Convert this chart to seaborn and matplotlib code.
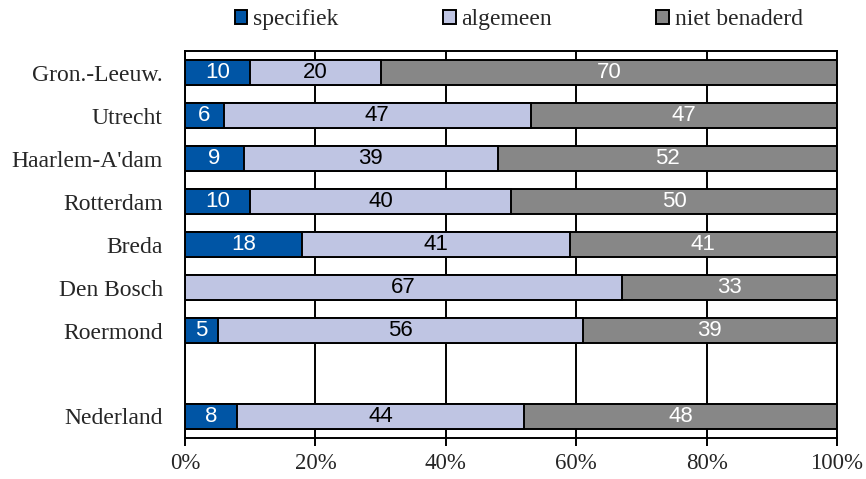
import numpy as np
import pandas as pd
import matplotlib
matplotlib.use("Agg")
import matplotlib.pyplot as plt
from matplotlib.patches import Patch
import seaborn as sns

# Values per region (percent)
regions = ["Gron.-Leeuw.", "Utrecht", "Haarlem-A'dam", "Rotterdam", "Breda",
           "Den Bosch", "Roermond", " ", "Nederland"]
specifiek = [10, 6, 9, 10, 18, 0, 5, np.nan, 8]
algemeen = [20, 47, 39, 40, 41, 67, 56, np.nan, 44]
niet_benaderd = [70, 47, 52, 50, 41, 33, 39, np.nan, 48]

series_names = ["specifiek", "algemeen", "niet benaderd"]
colors = ["#0055A5", "#BFC5E3", "#878787"]
text_colors = ["white", "black", "white"]

df = pd.DataFrame({"region": regions, "specifiek": specifiek,
                   "algemeen": algemeen, "niet benaderd": niet_benaderd})
df["cum1"] = df["specifiek"]
df["cum2"] = df["specifiek"] + df["algemeen"]
df["cum3"] = df["cum2"] + df["niet benaderd"]

sns.set_style("white")
plt.rcParams["font.family"] = ["Liberation Serif", "DejaVu Serif"]

fig = plt.figure(figsize=(8.66, 4.79), dpi=100)
ax = fig.add_axes([0.2136, 0.0856, 0.7529, 0.8079])

# gridlines behind bars
ax.set_axisbelow(True)
ax.grid(axis="x", color="black", linewidth=1.4)

# stacked bars drawn from the total downwards
for col, c in zip(["cum3", "cum2", "cum1"], colors[::-1]):
    sns.barplot(data=df, y="region", x=col, order=regions, orient="h",
                color=c, edgecolor="black", linewidth=1.4, width=0.58,
                saturation=1, ax=ax)

# value labels
for i, r in enumerate(regions):
    start = 0
    for name, tc in zip(series_names, text_colors):
        v = df.loc[i, name]
        if pd.isna(v):
            continue
        if v > 0:
            ax.text(start + v / 2, i, f"{v:.0f}", ha="center", va="center",
                    color=tc, fontsize=16, family="Liberation Sans")
        start += v

ax.set_xlim(0, 100)
ax.set_ylim(8.5, -0.5)
ax.set_xticks([0, 20, 40, 60, 80, 100])
ax.set_xticklabels([f"{t}%" for t in [0, 20, 40, 60, 80, 100]], fontsize=16.5)
ax.tick_params(axis="y", labelsize=17, length=0, pad=16)
ax.tick_params(axis="x", bottom=True, length=6, width=1.4, color="black", pad=5)
ax.set_xlabel("")
ax.set_ylabel("")
for s in ax.spines.values():
    s.set_visible(True)
    s.set_color("black")
    s.set_linewidth(1.4)

handles = [Patch(facecolor=c, edgecolor="black", linewidth=1.4) for c in colors]
fig.legend(handles, series_names, loc="upper center", ncol=3, frameon=False,
           bbox_to_anchor=(0.599, 1.025), fontsize=17, handlelength=0.55,
           handleheight=0.55, handletextpad=0.25, columnspacing=4.4)

fig.savefig("out.png", dpi=100)
